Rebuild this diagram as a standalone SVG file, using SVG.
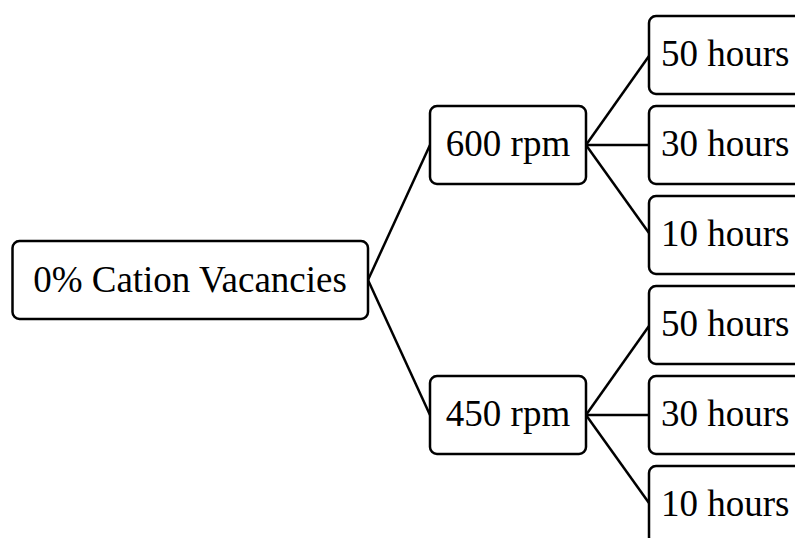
<svg xmlns="http://www.w3.org/2000/svg" width="795" height="538" viewBox="0 0 795 538">
<style>
.box{fill:#fff;stroke:#000;stroke-width:2.5}
.lbl{font-family:"Liberation Serif","Times New Roman",serif;font-size:37px;fill:#000}
.c{text-anchor:middle}
.conn{stroke:#000;stroke-width:2.5;fill:none}
</style>
<rect width="795" height="538" fill="#fff"/>
<g id="connectors">
<line class="conn" x1="368" y1="280" x2="430" y2="145"/>
<line class="conn" x1="368" y1="280" x2="430" y2="415"/>
<line class="conn" x1="586" y1="145" x2="649" y2="56"/>
<line class="conn" x1="586" y1="145" x2="649" y2="145"/>
<line class="conn" x1="586" y1="145" x2="649" y2="233"/>
<line class="conn" x1="586" y1="415" x2="649" y2="326"/>
<line class="conn" x1="586" y1="415" x2="649" y2="415"/>
<line class="conn" x1="586" y1="415" x2="649" y2="503"/>
</g>
<g id="root">
<rect class="box" x="12.5" y="241" width="355.5" height="78" rx="7"/>
<text class="lbl c" x="190" y="292">0% Cation Vacancies</text>
</g>
<g id="rpm600">
<rect class="box" x="430" y="106" width="156" height="78" rx="7"/>
<text class="lbl c" x="508" y="156">600 rpm</text>
</g>
<g id="rpm450">
<rect class="box" x="430" y="376" width="156" height="78" rx="7"/>
<text class="lbl c" x="508" y="426">450 rpm</text>
</g>
<g id="h50a">
<rect class="box" x="649" y="16" width="200" height="78" rx="7"/>
<text class="lbl" x="661" y="66">50 hours</text>
</g>
<g id="h30a">
<rect class="box" x="649" y="106" width="200" height="78" rx="7"/>
<text class="lbl" x="661" y="156">30 hours</text>
</g>
<g id="h10a">
<rect class="box" x="649" y="196" width="200" height="78" rx="7"/>
<text class="lbl" x="661" y="246">10 hours</text>
</g>
<g id="h50b">
<rect class="box" x="649" y="286" width="200" height="78" rx="7"/>
<text class="lbl" x="661" y="336">50 hours</text>
</g>
<g id="h30b">
<rect class="box" x="649" y="376" width="200" height="78" rx="7"/>
<text class="lbl" x="661" y="426">30 hours</text>
</g>
<g id="h10b">
<rect class="box" x="649" y="466" width="200" height="78" rx="7"/>
<text class="lbl" x="661" y="516">10 hours</text>
</g>
</svg>
